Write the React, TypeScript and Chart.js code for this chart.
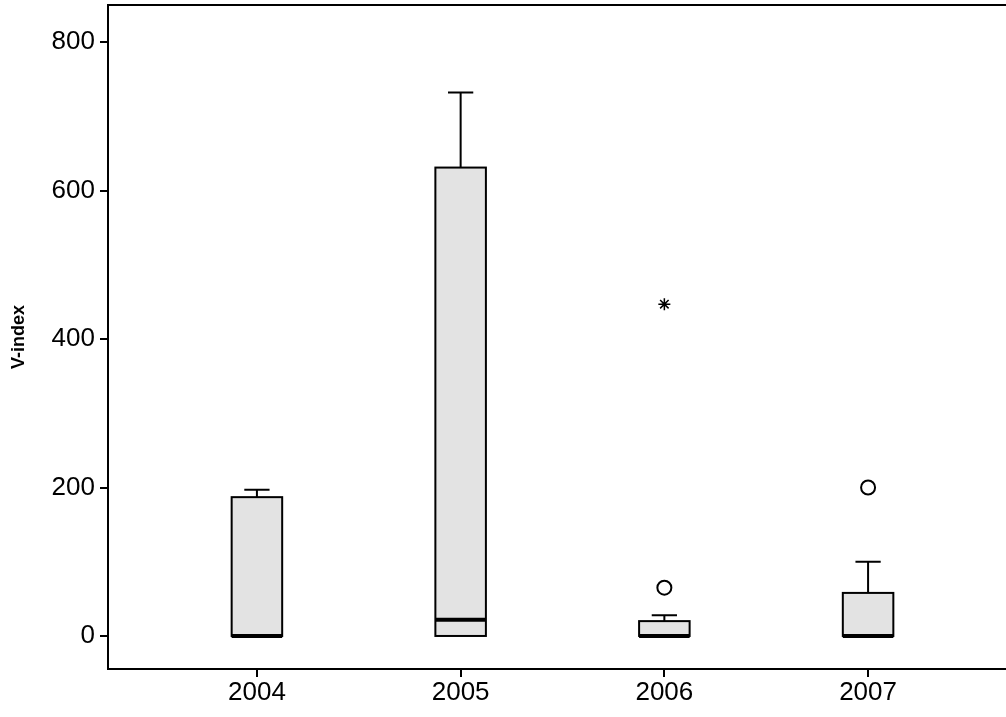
import { useEffect, useRef } from 'react';
import Chart from 'chart.js/auto';

const years = [2004, 2005, 2006, 2007];
const q1 = [0, 0, 0, 0];
const medians = [0, 22, 0, 0];
const q3 = [187, 631, 20, 58];
const whiskerLow = [0, 0, 0, 0];
const whiskerHigh = [197, 732, 28, 100];
const outliers = [{ x: 2006, y: 65 }, { x: 2007, y: 200 }];
const extremes = [{ x: 2006, y: 447 }];
const yTicks = [0, 200, 400, 600, 800];

const boxPlugin = {
  id: 'boxes',
  afterDatasetsDraw(chart: any) {
    const { ctx, scales, chartArea } = chart;
    const xs = scales.x, ys = scales.y;
    ctx.save();
    ctx.strokeStyle = '#000';
    // top frame line
    ctx.lineWidth = 2;
    ctx.beginPath();
    ctx.moveTo(chartArea.left, chartArea.top);
    ctx.lineTo(chartArea.right, chartArea.top);
    ctx.stroke();
    const half = xs.getPixelForValue(2004.124) - xs.getPixelForValue(2004);
    const cap = half / 2;
    years.forEach((yr, i) => {
      const cx = xs.getPixelForValue(yr);
      const yq1 = ys.getPixelForValue(q1[i]);
      const yq3 = ys.getPixelForValue(q3[i]);
      const yHi = ys.getPixelForValue(whiskerHigh[i]);
      const yLo = ys.getPixelForValue(whiskerLow[i]);
      ctx.lineWidth = 2;
      ctx.beginPath();
      ctx.moveTo(cx, yq3); ctx.lineTo(cx, yHi);
      ctx.moveTo(cx - cap, yHi); ctx.lineTo(cx + cap, yHi);
      ctx.moveTo(cx, yq1); ctx.lineTo(cx, yLo);
      ctx.stroke();
      ctx.fillStyle = '#e3e3e3';
      ctx.fillRect(cx - half, yq3, half * 2, yq1 - yq3);
      ctx.strokeRect(cx - half, yq3, half * 2, yq1 - yq3);
      ctx.lineWidth = 4;
      const ym = ys.getPixelForValue(medians[i]);
      ctx.beginPath();
      ctx.moveTo(cx - half, ym); ctx.lineTo(cx + half, ym);
      ctx.stroke();
    });
    ctx.restore();
  },
};

export default function App() {
  const ref = useRef<HTMLCanvasElement>(null);

  useEffect(() => {
    document.body.style.margin = '0';
    if (!ref.current) return;
    const chart = new Chart(ref.current, {
      type: 'scatter',
      data: {
        datasets: [
          {
            data: outliers,
            pointStyle: 'circle',
            radius: 7,
            borderColor: '#000',
            borderWidth: 2,
            backgroundColor: 'transparent',
          },
          {
            data: extremes,
            pointStyle: 'star',
            radius: 6,
            borderColor: '#000',
            borderWidth: 1.5,
            backgroundColor: 'transparent',
          },
        ],
      },
      options: {
        animation: false,
        responsive: false,
        layout: { autoPadding: false, padding: { top: 5, right: 0, left: 8, bottom: 0 } },
        plugins: { legend: { display: false }, tooltip: { enabled: false } },
        scales: {
          x: {
            type: 'linear',
            min: 2003.269,
            max: 2007.677,
            afterBuildTicks: (s: any) => { s.ticks = years.map((v) => ({ value: v })); },
            afterFit: (s: any) => { s.height = 48; s.paddingLeft = 0; s.paddingRight = 0; },
            grid: { display: true, drawOnChartArea: false, tickLength: 8, color: '#000', lineWidth: 2 },
            border: { display: true, color: '#000', width: 2 },
            ticks: { color: '#000', font: { family: 'Arial, Liberation Sans', size: 26 }, padding: 0, callback: (v: any) => String(v) },
          },
          y: {
            min: -44.5,
            max: 850,
            afterBuildTicks: (s: any) => { s.ticks = yTicks.map((v) => ({ value: v })); },
            afterFit: (s: any) => { s.width = 100; s.paddingTop = 0; s.paddingBottom = 0; },
            grid: { display: true, drawOnChartArea: false, tickLength: 8, color: '#000', lineWidth: 2 },
            border: { display: true, color: '#000', width: 2 },
            title: { display: true, text: 'V-index', color: '#000', font: { family: 'Arial, Liberation Sans', size: 18, weight: 'bold' }, padding: { top: 0, bottom: 8 } },
            ticks: { color: '#000', font: { family: 'Arial, Liberation Sans', size: 26 }, padding: 5 },
          },
        },
      },
      plugins: [boxPlugin],
    });
    return () => chart.destroy();
  }, []);

  return (
    <div style={{ width: 1006, height: 717, background: '#fff' }}>
      <canvas ref={ref} width={1006} height={717}></canvas>
    </div>
  );
}
